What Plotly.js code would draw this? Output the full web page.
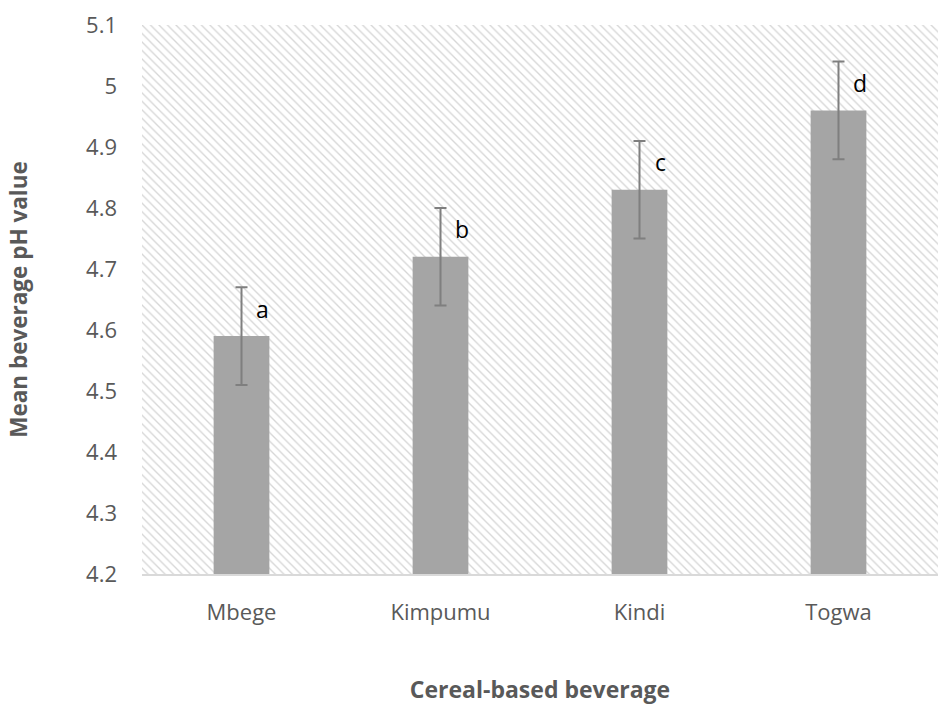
<!DOCTYPE html>
<html>
<head>
<meta charset="utf-8">
<script src="https://cdn.plot.ly/plotly-3.0.1.min.js"></script>
<style>html,body{margin:0;padding:0;background:#fff;}#chart{width:950px;height:706px;}</style>
</head>
<body>
<div id="chart"></div>
<script>
var categories = ["Mbege", "Kimpumu", "Kindi", "Togwa"];
var meanPH = [4.59, 4.72, 4.83, 4.96];
var errPH = [0.08, 0.08, 0.08, 0.08];
var letters = ["a", "b", "c", "d"];
var yTicks = [4.2, 4.3, 4.4, 4.5, 4.6, 4.7, 4.8, 4.9, 5, 5.1];
var yMin = 4.2, yMax = 5.1;

var idx = categories.map(function(_, i){ return i; });
var textColor = "#595959";

var bg = {
  type: "bar",
  x: [(categories.length - 1) / 2],
  y: [yMax - yMin],
  base: [yMin],
  width: [categories.length],
  marker: {
    color: "#ffffff",
    line: {width: 0},
    pattern: {shape: "\\", size: 6, solidity: 0.22, fgcolor: "#d6d6d6", bgcolor: "#ffffff", fillmode: "replace"}
  },
  hoverinfo: "skip",
  showlegend: false
};

var bars = {
  type: "bar",
  x: idx,
  y: meanPH.map(function(v){ return v - yMin; }),
  base: meanPH.map(function(){ return yMin; }),
  width: 0.28,
  marker: {color: "#a5a5a5", line: {width: 0}},
  error_y: {type: "data", array: errPH, visible: true, color: "#7f7f7f", thickness: 2, width: 6},
  showlegend: false
};

var annotations = letters.map(function(t, i){
  return {
    x: i, y: meanPH[i] + errPH[i] / 2 + 0.005, xref: "x", yref: "y",
    text: t, showarrow: false, xshift: 21,
    font: {family: "Open Sans, sans-serif", size: 23, color: "#000000"}
  };
});

var layout = {
  width: 950, height: 706,
  margin: {l: 142, r: 12, t: 25, b: 132},
  paper_bgcolor: "#ffffff",
  plot_bgcolor: "#ffffff",
  barmode: "overlay",
  font: {family: "Open Sans, sans-serif", color: textColor},
  xaxis: {
    range: [-0.5, categories.length - 0.5],
    tickmode: "array", tickvals: idx, ticktext: categories,
    showgrid: false, zeroline: false,
    showline: true, linecolor: "#d9d9d9", linewidth: 1.5,
    ticks: "", ticklabelstandoff: 18,
    tickfont: {size: 22, color: textColor},
    title: {text: "Cereal-based beverage", font: {size: 23, color: textColor, weight: "bold"}, standoff: 57}
  },
  yaxis: {
    range: [yMin, yMax],
    tickmode: "array", tickvals: yTicks, ticktext: yTicks.map(String),
    showgrid: false, zeroline: false, showline: false, ticks: "",
    ticklabelstandoff: 24,
    tickfont: {size: 22, color: textColor},
    title: {text: "Mean beverage pH value", font: {size: 22.5, color: textColor, weight: "bold"}, standoff: 52}
  },
  annotations: annotations
};

Plotly.newPlot("chart", [bg, bars], layout, {displayModeBar: false, staticPlot: true});
</script>
</body>
</html>
